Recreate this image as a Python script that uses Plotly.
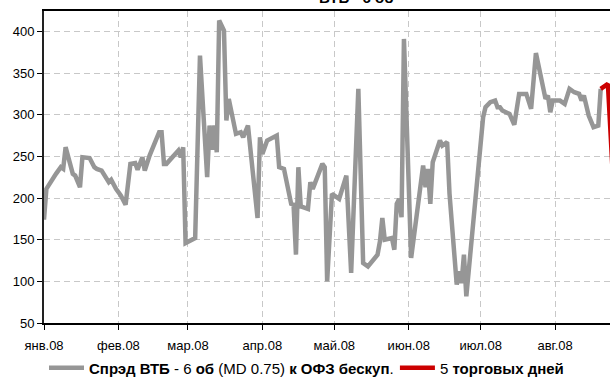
import plotly.graph_objects as go

# ---- data ----
spread_dates = [
    "2008-01-01", "2008-01-02", "2008-01-06", "2008-01-08", "2008-01-09", "2008-01-10",
    "2008-01-13", "2008-01-14", "2008-01-16", "2008-01-17", "2008-01-20", "2008-01-22",
    "2008-01-23", "2008-01-25", "2008-01-28", "2008-01-29", "2008-01-31", "2008-02-02",
    "2008-02-04", "2008-02-06", "2008-02-08", "2008-02-09", "2008-02-11", "2008-02-12",
    "2008-02-14", "2008-02-18", "2008-02-19", "2008-02-20", "2008-02-21", "2008-02-25",
    "2008-02-26", "2008-02-27", "2008-02-28", "2008-02-29", "2008-03-04", "2008-03-06",
    "2008-03-09", "2008-03-10", "2008-03-11", "2008-03-12", "2008-03-13", "2008-03-14",
    "2008-03-16", "2008-03-17", "2008-03-18", "2008-03-21", "2008-03-23", "2008-03-24",
    "2008-03-26", "2008-03-30", "2008-03-31", "2008-04-01", "2008-04-03", "2008-04-07",
    "2008-04-08", "2008-04-10", "2008-04-13", "2008-04-14", "2008-04-15", "2008-04-16",
    "2008-04-17", "2008-04-20", "2008-04-21", "2008-04-22", "2008-04-26", "2008-04-27",
    "2008-04-28", "2008-04-30", "2008-05-03", "2008-05-06", "2008-05-08", "2008-05-11",
    "2008-05-13", "2008-05-15", "2008-05-19", "2008-05-20", "2008-05-21", "2008-05-22",
    "2008-05-25", "2008-05-26", "2008-05-27", "2008-05-28", "2008-05-29", "2008-05-30",
    "2008-06-02", "2008-06-07", "2008-06-08", "2008-06-09", "2008-06-10", "2008-06-11",
    "2008-06-14", "2008-06-15", "2008-06-17", "2008-06-18", "2008-06-21", "2008-06-22",
    "2008-06-23", "2008-06-24", "2008-06-25", "2008-07-02", "2008-07-03", "2008-07-05",
    "2008-07-07", "2008-07-08", "2008-07-09", "2008-07-10", "2008-07-13", "2008-07-15",
    "2008-07-17", "2008-07-20", "2008-07-22", "2008-07-24", "2008-07-27", "2008-07-28",
    "2008-07-29", "2008-07-30", "2008-07-31", "2008-08-03", "2008-08-05", "2008-08-07",
    "2008-08-09", "2008-08-11", "2008-08-12", "2008-08-13", "2008-08-15", "2008-08-17",
    "2008-08-19", "2008-08-20",
]
spread_values = [
    174, 211, 229, 237, 235, 261,
    229, 227, 213, 249, 248, 237,
    235, 233, 219, 222, 211, 203,
    192, 241, 242, 234, 249, 233,
    251, 279, 279, 241, 241, 255,
    257, 249, 261, 146, 152, 371,
    225, 287, 258, 287, 255, 413,
    401, 293, 319, 277, 279, 273,
    287, 176, 273, 253, 269, 275,
    237, 235, 193, 192, 132, 237,
    190, 187, 219, 211, 241, 237,
    100, 205, 199, 227, 110, 331,
    122, 118, 132, 148, 176, 150,
    152, 138, 193, 199, 177, 391,
    128, 239, 213, 235, 193, 243,
    269, 263, 267, 205, 96, 112,
    98, 132, 82, 297, 309, 315,
    317, 309, 309, 305, 301, 288,
    325, 325, 307, 374, 329, 319,
    323, 303, 317, 317, 313, 331,
    327, 325, 317, 323, 299, 285,
    287, 331,
]
last5_dates = ["2008-08-20", "2008-08-21", "2008-08-23", "2008-08-25"]
last5_values = [331, 333, 337, 230]

month_ticks = ["2008-01-01", "2008-02-01", "2008-03-01", "2008-04-01",
               "2008-05-01", "2008-06-01", "2008-07-01", "2008-08-01"]
month_labels = ["янв.08", "фев.08", "мар.08", "апр.08",
                "май.08", "июн.08", "июл.08", "авг.08"]
y_ticks = [50, 100, 150, 200, 250, 300, 350, 400]

FONT = "Liberation Sans Narrow, Arial Narrow, Liberation Sans, Arial, sans-serif"

fig = go.Figure()
fig.add_trace(go.Scatter(
    x=spread_dates, y=spread_values, mode="lines",
    line=dict(color="#969696", width=4.5),
    name="<b>Спрэд ВТБ</b> - 6 <b>об</b> (MD 0.75) <b>к ОФЗ бескуп</b>.",
    legend="legend",
))
fig.add_trace(go.Scatter(
    x=last5_dates, y=last5_values, mode="lines",
    line=dict(color="#cc0000", width=4.5),
    name="5 <b>торговых дней</b>",
    legend="legend2",
))

legend_common = dict(orientation="h", xanchor="left", yref="container", y=0.029,
                     yanchor="middle", itemwidth=35, bgcolor="rgba(0,0,0,0)")

fig.update_layout(
    width=610, height=379,
    margin=dict(l=44, r=0, t=11, b=56, autoexpand=False),
    paper_bgcolor="white", plot_bgcolor="white",
    font=dict(family=FONT, size=12, color="black"),
    showlegend=True,
    legend=dict(x=0.0, font=dict(family=FONT, size=15, color="black"), **legend_common),
    legend2=dict(x=0.62, font=dict(family=FONT, size=15, color="black"), **legend_common),
    xaxis=dict(
        type="date", range=["2008-01-01", "2008-08-23 21:00"],
        tickvals=month_ticks, ticktext=month_labels,
        showgrid=True, gridcolor="#c8c8c8", griddash="6px,4px", gridwidth=1,
        showline=True, linecolor="black", linewidth=1.5, mirror=True,
        ticks="outside", ticklen=5, tickcolor="black",
        tickfont=dict(family=FONT, size=13), ticklabelstandoff=5,
        zeroline=False, automargin=False,
    ),
    yaxis=dict(
        range=[50, 424.5], tickvals=y_ticks,
        showgrid=True, gridcolor="#c8c8c8", griddash="6px,4px", gridwidth=1,
        showline=True, linecolor="#222", linewidth=2,
        ticks="outside", ticklen=5, tickcolor="black",
        tickfont=dict(family=FONT, size=13),
        zeroline=False, automargin=False,
    ),
    annotations=[dict(
        text="<b>ВТБ - 6 об</b>", xref="paper", yref="paper", x=0.551, y=1,
        xanchor="center", yanchor="bottom", yshift=3, showarrow=False,
        font=dict(family=FONT, size=15, color="black"),
    )],
)

fig.write_html("out.html", config={"displayModeBar": False},
               post_script="document.body.style.margin='0';document.body.style.padding='0';")
